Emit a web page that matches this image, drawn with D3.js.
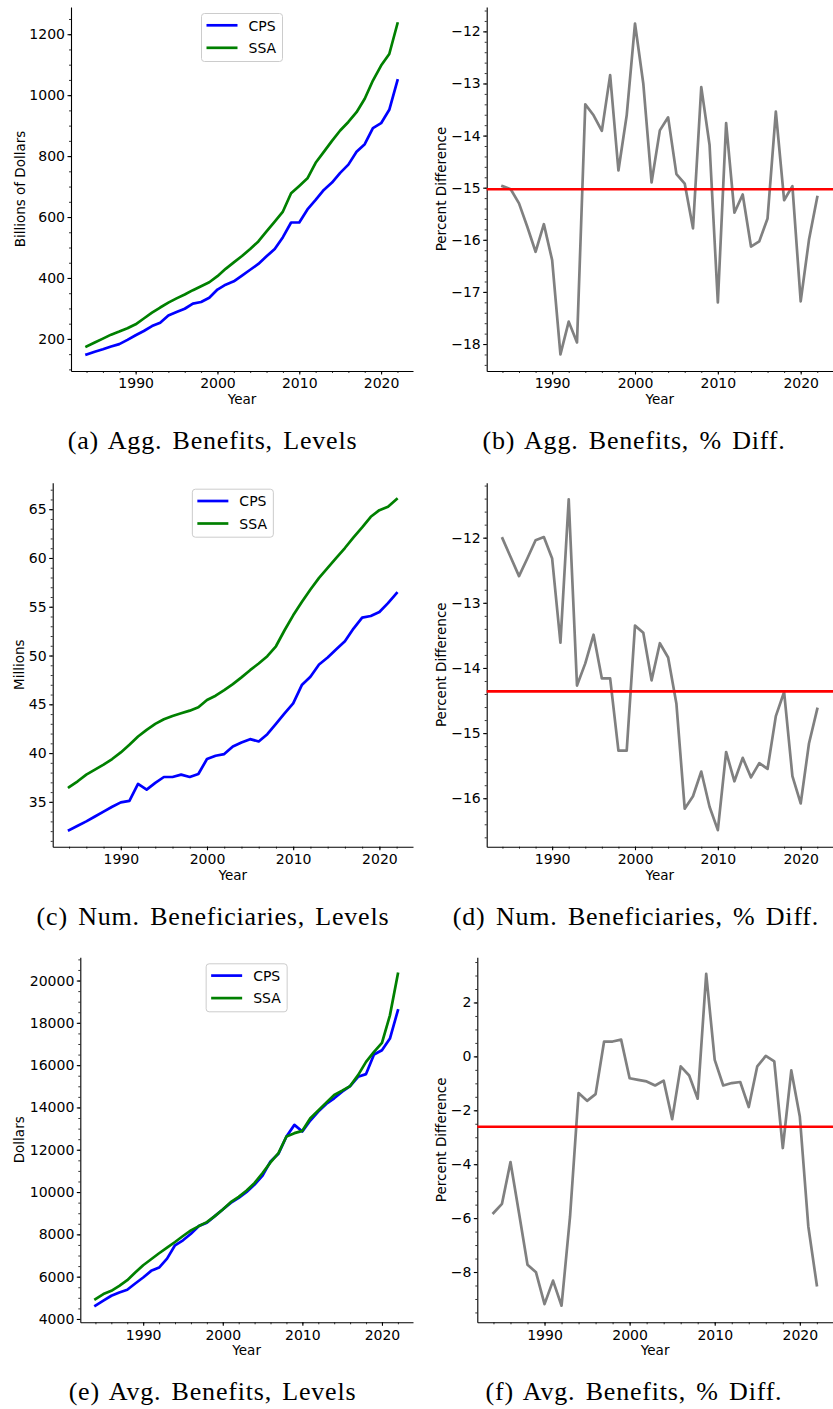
<!DOCTYPE html>
<html>
<head>
<meta charset="utf-8">
<script src="https://cdn.jsdelivr.net/npm/d3@7"></script>
<style>
  body { margin: 0; background: #fff; }
  svg { display: block; }
</style>
</head>
<body>
<svg id="fig" width="833" height="1409"></svg>
<script>
// ---- data -------------------------------------------------------------
const years = [1984, 1985, 1986, 1987, 1988, 1989, 1990, 1991, 1992, 1993,
  1994, 1995, 1996, 1997, 1998, 1999, 2000, 2001, 2002, 2003,
  2004, 2005, 2006, 2007, 2008, 2009, 2010, 2011, 2012, 2013,
  2014, 2015, 2016, 2017, 2018, 2019, 2020, 2021, 2022];

// Aggregate benefits, billions of dollars
const aggCPS = [149, 158, 166, 175, 183, 197, 212, 226, 242, 253,
  277, 288, 299, 316, 321, 335, 362, 378, 389, 408,
  427, 446, 471, 495, 534, 582, 582, 625, 656, 689,
  713, 745, 772, 814, 839, 892, 908, 952, 1048];
const aggSSA = [175, 188, 201, 214, 224, 235, 248, 267, 286, 303,
  319, 333, 346, 360, 373, 386, 406, 430, 451, 472,
  495, 520, 553, 585, 618, 678, 702, 727, 778, 814,
  850, 884, 912, 944, 988, 1048, 1097, 1135, 1235];
const aggPctDiff = [-14.97, -15.03, -15.30, -15.75, -16.23, -15.70, -16.39, -18.20, -17.57, -17.97,
  -13.40, -13.61, -13.91, -12.84, -14.67, -13.61, -11.85, -13.00, -14.90, -13.90,
  -13.65, -14.74, -14.92, -15.78, -13.07, -14.18, -17.20, -13.76, -15.48, -15.13,
  -16.13, -16.03, -15.59, -13.54, -15.24, -14.97, -17.18, -16.00, -15.18];
const aggMean = -15.03;

// Number of beneficiaries, millions
const benCPS = [32.1, 32.55, 33.0, 33.5, 34.0, 34.5, 34.95, 35.1, 36.84, 36.26,
  36.94, 37.55, 37.55, 37.79, 37.55, 37.86, 39.39, 39.73, 39.90, 40.68,
  41.09, 41.43, 41.19, 41.94, 42.99, 44.08, 45.10, 46.97, 47.82, 49.08,
  49.80, 50.65, 51.46, 52.76, 53.88, 54.05, 54.46, 55.37, 56.39];
const benSSA = [36.50, 37.11, 37.79, 38.30, 38.81, 39.39, 40.07, 40.85, 41.70, 42.38,
  42.99, 43.47, 43.81, 44.08, 44.35, 44.69, 45.44, 45.88, 46.46, 47.07,
  47.76, 48.50, 49.18, 49.93, 50.95, 52.59, 54.12, 55.48, 56.77, 57.96,
  58.98, 60.00, 61.02, 62.11, 63.13, 64.22, 64.90, 65.24, 66.02];
const benPctDiff = [-12.01, -12.30, -12.59, -12.32, -12.04, -11.99, -12.32, -13.61, -11.41, -14.27,
  -13.93, -13.49, -14.16, -14.16, -15.27, -15.27, -13.35, -13.46, -14.19, -13.62,
  -13.84, -14.55, -16.16, -15.97, -15.59, -16.13, -16.49, -15.29, -15.74, -15.38,
  -15.68, -15.46, -15.55, -14.74, -14.37, -15.66, -16.08, -15.16, -14.63];
const benMean = -14.36;

// Average benefits, dollars
const avgCPS = [4627, 4863, 5098, 5255, 5380, 5678, 5961, 6275, 6431, 6855,
  7482, 7718, 8031, 8392, 8549, 8863, 9176, 9490, 9725, 10008,
  10353, 10776, 11451, 11812, 12627, 13176, 12863, 13380, 13804, 14165,
  14431, 14745, 15012, 15451, 15576, 16502, 16706, 17255, 18588];
const avgSSA = [4941, 5176, 5333, 5569, 5835, 6196, 6541, 6824, 7106, 7373,
  7639, 7922, 8188, 8392, 8580, 8863, 9176, 9522, 9773, 10071,
  10431, 10902, 11404, 11843, 12627, 12784, 12894, 13490, 13851, 14227,
  14588, 14792, 15012, 15529, 16157, 16627, 17051, 18353, 20314];
const avgPctDiff = [-5.81, -5.47, -3.92, -5.81, -7.73, -8.01, -9.19, -8.32, -9.25, -5.94,
  -1.36, -1.65, -1.40, 0.55, 0.55, 0.62, -0.81, -0.87, -0.93, -1.08,
  -0.90, -2.33, -0.37, -0.71, -1.57, 3.06, -0.13, -1.08, -0.99, -0.95,
  -1.88, -0.37, 0.02, -0.19, -3.40, -0.52, -2.23, -6.31, -8.49];
const avgMean = -2.61;

// Tick values
const xTicks = [1990, 2000, 2010, 2020];
const aggTicks = [200, 400, 600, 800, 1000, 1200];
const aggDiffTicks = [-18, -17, -16, -15, -14, -13, -12];
const benTicks = [35, 40, 45, 50, 55, 60, 65];
const benDiffTicks = [-16, -15, -14, -13, -12];
const avgTicks = [4000, 6000, 8000, 10000, 12000, 14000, 16000, 18000, 20000];
const avgDiffTicks = [-8, -6, -4, -2, 0, 2];

const seriesNames = ["CPS", "SSA"];
const seriesColors = { CPS: "#0000ff", SSA: "#008000" };

// ---- panel layout -----------------------------------------------------
const panels = [
  { kind: "levels", cps: aggCPS, ssa: aggSSA, ticks: aggTicks, minor: 50,
    ylabel: "Billions of Dollars", caption: "(a) Agg. Benefits, Levels",
    box: { l: 71, t: 7, r: 413, b: 371 }, ylabelX: 25, capX: 212.5, capY: 449 },
  { kind: "diff", diff: aggPctDiff, mean: aggMean, ticks: aggDiffTicks, minor: 0.2,
    ylabel: "Percent Difference", caption: "(b) Agg. Benefits, % Diff.",
    box: { l: 486.7, t: 7, r: 833, b: 371 }, ylabelX: 446, capX: 634, capY: 449 },
  { kind: "levels", cps: benCPS, ssa: benSSA, ticks: benTicks, minor: 1,
    ylabel: "Millions", caption: "(c) Num. Beneficiaries, Levels",
    box: { l: 52.7, t: 482.7, r: 413, b: 846.7 }, ylabelX: 24.3, capX: 213, capY: 924.5 },
  { kind: "diff", diff: benPctDiff, mean: benMean, ticks: benDiffTicks, minor: 0.2,
    ylabel: "Percent Difference", caption: "(d) Num. Beneficiaries, % Diff.",
    box: { l: 486.7, t: 482.7, r: 833, b: 846.7 }, ylabelX: 446, capX: 636, capY: 924.5 },
  { kind: "levels", cps: avgCPS, ssa: avgSSA, ticks: avgTicks, minor: 500,
    ylabel: "Dollars", caption: "(e) Avg. Benefits, Levels",
    box: { l: 80.3, t: 957.3, r: 413, b: 1322.3 }, ylabelX: 24.3, capX: 212.5, capY: 1400 },
  { kind: "diff", diff: avgPctDiff, mean: avgMean, ticks: avgDiffTicks, minor: 0.5,
    ylabel: "Percent Difference", caption: "(f) Avg. Benefits, % Diff.",
    box: { l: 477.3, t: 957.3, r: 833, b: 1322.3 }, ylabelX: 446, capX: 634, capY: 1400 }
];

const svg = d3.select("#fig");
const sansFont = "'DejaVu Sans', sans-serif";
const serifFont = "'Liberation Serif', 'DejaVu Serif', serif";
const tickFont = 14, labelFont = 13.5;
const lineW = 2.7;
const tickFmt = v => d3.format("d")(v).replace("-", "\u2212");

// matplotlib-style 5% autoscale margins
function padded(ext) {
  const pad = (ext[1] - ext[0]) * 0.05;
  return [ext[0] - pad, ext[1] + pad];
}

function minorValues(domain, step) {
  const out = [];
  const start = Math.ceil(domain[0] / step - 1e-9);
  const stop = Math.floor(domain[1] / step + 1e-9);
  for (let i = start; i <= stop; i++) out.push(+(i * step).toFixed(6));
  return out;
}

panels.forEach(p => {
  const { l, t, r, b } = p.box;
  const g = svg.append("g");

  const x = d3.scaleLinear()
    .domain(padded(d3.extent(years)))
    .range([l, r]);

  const values = p.kind === "levels" ? p.cps.concat(p.ssa) : p.diff;
  const y = d3.scaleLinear()
    .domain(padded(d3.extent(values)))
    .range([b, t]);

  // minor ticks
  const xMinor = minorValues(x.domain(), 2);
  const yMinor = minorValues(y.domain(), p.minor);
  g.append("g")
    .attr("transform", `translate(0,${b})`)
    .call(d3.axisBottom(x).tickValues(xMinor).tickSize(2).tickSizeOuter(0).tickFormat(""))
    .call(a => a.select(".domain").remove())
    .call(a => a.selectAll("line").attr("stroke", "#000").attr("stroke-width", 0.8));
  g.append("g")
    .attr("transform", `translate(${l},0)`)
    .call(d3.axisLeft(y).tickValues(yMinor).tickSize(2).tickSizeOuter(0).tickFormat(""))
    .call(a => a.select(".domain").remove())
    .call(a => a.selectAll("line").attr("stroke", "#000").attr("stroke-width", 0.8));

  // major axes
  const xAxis = g.append("g")
    .attr("transform", `translate(0,${b})`)
    .call(d3.axisBottom(x).tickValues(xTicks).tickSize(3.5).tickPadding(4)
      .tickSizeOuter(0).tickFormat(d3.format("d")));
  const yAxis = g.append("g")
    .attr("transform", `translate(${l},0)`)
    .call(d3.axisLeft(y).tickValues(p.ticks).tickSize(3.5).tickPadding(2.5)
      .tickSizeOuter(0).tickFormat(tickFmt));
  [xAxis, yAxis].forEach(a => {
    a.attr("font-family", sansFont).attr("font-size", tickFont);
    a.select(".domain").attr("stroke", "#000").attr("stroke-width", 1.1);
    a.selectAll(".tick line").attr("stroke", "#000").attr("stroke-width", 1.1);
    a.selectAll(".tick text").attr("fill", "#000");
  });

  // axis labels
  g.append("text")
    .attr("x", (l + r) / 2).attr("y", b + 33)
    .attr("text-anchor", "middle")
    .attr("font-family", sansFont).attr("font-size", labelFont)
    .attr("fill", "#000")
    .text("Year");
  g.append("text")
    .attr("transform", `translate(${p.ylabelX},${(t + b) / 2}) rotate(-90)`)
    .attr("text-anchor", "middle")
    .attr("font-family", sansFont).attr("font-size", labelFont)
    .attr("fill", "#000")
    .text(p.ylabel);

  const line = d3.line()
    .x((d, i) => x(years[i]))
    .y(d => y(d));

  if (p.kind === "levels") {
    [["CPS", p.cps], ["SSA", p.ssa]].forEach(([name, vals]) => {
      g.append("path")
        .datum(vals)
        .attr("d", line)
        .attr("fill", "none")
        .attr("stroke", seriesColors[name])
        .attr("stroke-width", lineW)
        .attr("stroke-linejoin", "round")
        .attr("stroke-linecap", "square");
    });

    // legend, upper centre
    const lw = 81, lh = 48;
    const lx = (l + r) / 2 - lw / 2, ly = t + 6.5;
    const leg = g.append("g").attr("transform", `translate(${lx},${ly})`);
    leg.append("rect")
      .attr("width", lw).attr("height", lh).attr("rx", 3)
      .attr("fill", "#fff").attr("fill-opacity", 0.8)
      .attr("stroke", "#cccccc").attr("stroke-width", 1);
    seriesNames.forEach((name, i) => {
      const ry = 11.8 + i * 22.5;
      leg.append("line")
        .attr("x1", 5).attr("x2", 36).attr("y1", ry).attr("y2", ry)
        .attr("stroke", seriesColors[name]).attr("stroke-width", lineW);
      leg.append("text")
        .attr("x", 47).attr("y", ry + 5.2)
        .attr("font-family", sansFont).attr("font-size", tickFont)
        .attr("fill", "#000")
        .text(name);
    });
  } else {
    g.append("path")
      .datum(p.diff)
      .attr("d", line)
      .attr("fill", "none")
      .attr("stroke", "#808080")
      .attr("stroke-width", lineW)
      .attr("stroke-linejoin", "round")
      .attr("stroke-linecap", "square");
    g.append("line")
      .attr("x1", l).attr("x2", r)
      .attr("y1", y(p.mean)).attr("y2", y(p.mean))
      .attr("stroke", "#ff0000").attr("stroke-width", lineW);
  }

  // caption under the panel
  g.append("text")
    .attr("x", p.capX).attr("y", p.capY)
    .attr("text-anchor", "middle")
    .attr("font-family", serifFont).attr("font-size", 26)
    .attr("letter-spacing", "0.8px")
    .attr("word-spacing", "3px")
    .attr("fill", "#000")
    .text(p.caption);
});
</script>
</body>
</html>
